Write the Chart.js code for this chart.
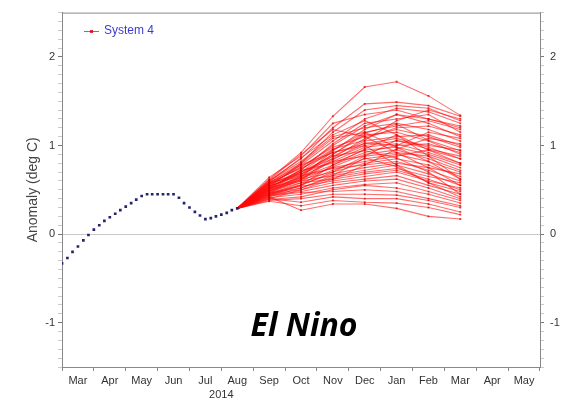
<!DOCTYPE html>
<html>
<head>
<meta charset="utf-8">
<script src="https://cdn.jsdelivr.net/npm/chart.js@4.4.1/dist/chart.umd.min.js"></script>
<style>
  html, body { margin: 0; padding: 0; background: #fff; }
  canvas { display: block; }
</style>
</head>
<body>
<canvas id="chart" width="567" height="404"></canvas>
<script>
// month axis: 0 = 1 Mar 2014, one unit per month
const monthLabels = ["Mar", "Apr", "May", "Jun", "Jul", "Aug", "Sep", "Oct", "Nov", "Dec", "Jan", "Feb", "Mar", "Apr", "May"];
const monthTicks = [0.5, 1.5, 2.5, 3.5, 4.5, 5.5, 6.5, 7.5, 8.5, 9.5, 10.5, 11.5, 12.5, 13.5, 14.5];
const yearLabel = "2014";
const yearAt = 5;

// observed anomaly (every ~5 days)
const obsX = [0, 0.17, 0.33, 0.5, 0.67, 0.83, 1, 1.17, 1.33, 1.5, 1.67, 1.83, 2, 2.17, 2.33, 2.5, 2.67,
  2.83, 3, 3.17, 3.33, 3.5, 3.67, 3.83, 4, 4.17, 4.33, 4.5, 4.67, 4.83, 5, 5.17, 5.33, 5.5];
const obsY = [-0.33, -0.27, -0.20, -0.14, -0.07, -0.01, 0.05, 0.10, 0.15, 0.19, 0.23, 0.27, 0.31, 0.35, 0.39, 0.43, 0.45,
  0.45, 0.45, 0.45, 0.45, 0.45, 0.41, 0.35, 0.30, 0.25, 0.21, 0.17, 0.18, 0.20, 0.22, 0.24, 0.27, 0.29];

// System 4 ensemble: Aug start, then Sep .. Mar monthly means
const fcX = [5.5, 6.5, 7.5, 8.5, 9.5, 10.5, 11.5, 12.5];
const fcStart = 0.29;
const members = [
  [0.62, 0.92, 1.33, 1.66, 1.72, 1.56, 1.34],
  [0.60, 0.85, 1.20, 1.47, 1.49, 1.45, 1.33],
  [0.58, 0.80, 1.15, 1.40, 1.45, 1.42, 1.28],
  [0.64, 0.88, 1.25, 1.35, 1.40, 1.30, 1.20],
  [0.55, 0.78, 1.05, 1.30, 1.42, 1.38, 1.25],
  [0.57, 0.75, 1.00, 1.22, 1.35, 1.25, 1.10],
  [0.52, 0.72, 1.02, 1.25, 1.30, 1.35, 1.15],
  [0.60, 0.82, 1.10, 1.20, 1.25, 1.18, 1.05],
  [0.50, 0.70, 0.95, 1.15, 1.22, 1.28, 1.18],
  [0.56, 0.76, 0.98, 1.10, 1.18, 1.10, 0.98],
  [0.54, 0.68, 0.90, 1.12, 1.15, 1.05, 0.90],
  [0.48, 0.66, 0.88, 1.05, 1.10, 1.12, 1.00],
  [0.58, 0.74, 0.92, 1.02, 1.08, 0.98, 0.85],
  [0.53, 0.70, 0.85, 1.00, 1.05, 1.00, 0.95],
  [0.50, 0.65, 0.82, 0.98, 1.02, 0.92, 0.80],
  [0.46, 0.62, 0.86, 1.08, 1.20, 1.22, 1.12],
  [0.55, 0.72, 0.80, 0.95, 0.98, 0.90, 0.78],
  [0.52, 0.64, 0.78, 0.92, 1.00, 1.02, 0.92],
  [0.49, 0.60, 0.76, 0.90, 0.95, 0.85, 0.72],
  [0.57, 0.68, 0.82, 0.88, 0.92, 0.88, 0.75],
  [0.45, 0.58, 0.72, 0.85, 0.90, 0.82, 0.70],
  [0.51, 0.63, 0.75, 0.82, 0.88, 0.95, 0.85],
  [0.47, 0.55, 0.70, 0.80, 0.85, 0.78, 0.65],
  [0.54, 0.66, 0.74, 0.78, 0.82, 0.72, 0.60],
  [0.44, 0.56, 0.68, 0.75, 0.80, 0.75, 0.68],
  [0.50, 0.60, 0.66, 0.72, 0.78, 0.68, 0.55],
  [0.42, 0.52, 0.64, 0.70, 0.74, 0.65, 0.58],
  [0.48, 0.58, 0.62, 0.68, 0.72, 0.62, 0.50],
  [0.46, 0.54, 0.60, 0.65, 0.70, 0.60, 0.52],
  [0.40, 0.50, 0.58, 0.62, 0.66, 0.55, 0.45],
  [0.44, 0.48, 0.55, 0.60, 0.62, 0.52, 0.40],
  [0.41, 0.45, 0.52, 0.56, 0.58, 0.48, 0.38],
  [0.39, 0.42, 0.50, 0.55, 0.52, 0.45, 0.35],
  [0.43, 0.47, 0.48, 0.50, 0.48, 0.40, 0.32],
  [0.38, 0.40, 0.45, 0.45, 0.44, 0.38, 0.30],
  [0.40, 0.36, 0.42, 0.40, 0.40, 0.34, 0.25],
  [0.37, 0.32, 0.38, 0.36, 0.35, 0.30, 0.22],
  [0.42, 0.27, 0.34, 0.34, 0.29, 0.20, 0.17],
  [0.59, 0.86, 1.12, 1.28, 1.12, 0.95, 0.80],
  [0.53, 0.80, 1.08, 1.15, 0.98, 0.82, 0.62],
  [0.61, 0.90, 1.18, 1.10, 0.92, 0.75, 0.55],
  [0.47, 0.64, 0.94, 1.18, 1.35, 1.30, 1.22],
  [0.51, 0.73, 0.96, 1.06, 1.28, 1.40, 1.30],
  [0.45, 0.50, 0.62, 0.78, 0.96, 1.08, 1.02],
  [0.56, 0.70, 0.88, 0.94, 0.86, 0.70, 0.45],
  [0.49, 0.62, 0.70, 0.88, 1.06, 0.96, 0.88],
  [0.43, 0.55, 0.78, 0.96, 1.12, 0.88, 0.62],
  [0.58, 0.78, 0.92, 1.00, 0.78, 0.58, 0.42],
  [0.52, 0.61, 0.84, 1.03, 1.00, 1.15, 1.08],
  [0.46, 0.52, 0.66, 0.86, 0.76, 0.58, 0.48],
  [0.54, 0.67, 0.90, 1.14, 1.24, 1.06, 0.94],
];

const legendText = "System 4";
const bigText = "El Nino";

// ------------------------ datasets ------------------------
const datasets = [{
  label: "obs",
  data: obsX.map((x, i) => ({ x, y: obsY[i] })),
  showLine: false,
  pointStyle: "rect",
  pointRadius: 1.9,
  pointBackgroundColor: "#24246a",
  pointBorderWidth: 0,
}];

members.forEach(m => {
  const vals = [fcStart].concat(m);
  datasets.push({
    label: legendText,
    data: fcX.map((x, i) => ({ x, y: vals[i] })),
    borderColor: "rgba(255,10,10,0.6)",
    borderWidth: 1.1,
    tension: 0,
    pointStyle: "rect",
    pointRadius: ctx => (ctx.dataIndex === 0 ? 0 : 1.3),
    pointBackgroundColor: "rgba(215,0,0,0.75)",
    pointBorderWidth: 0,
  });
});

const isInt = v => Math.abs(v - Math.round(v)) < 1e-6;
const tickFont = { family: "Liberation Sans, Arial, sans-serif", size: 11 };

// ------------------------ extra text / frame ------------------------
const decor = {
  id: "decor",
  afterDraw(chart) {
    const { ctx, chartArea: a, scales } = chart;
    ctx.save();
    // top frame line
    ctx.strokeStyle = "#888";
    ctx.lineWidth = 1;
    ctx.beginPath();
    ctx.moveTo(a.left, a.top + 0.5);
    ctx.lineTo(a.right, a.top + 0.5);
    ctx.stroke();

    // legend
    ctx.strokeStyle = "rgba(255,20,20,0.8)";
    ctx.beginPath();
    ctx.moveTo(84, 31.5);
    ctx.lineTo(99, 31.5);
    ctx.stroke();
    ctx.fillStyle = "rgba(215,0,0,0.8)";
    ctx.fillRect(90, 30, 3, 3);
    ctx.fillStyle = "#3b3bd0";
    ctx.font = "12px Liberation Sans, Arial, sans-serif";
    ctx.textBaseline = "middle";
    ctx.textAlign = "left";
    ctx.fillText(legendText, 104, 31);

    // year under the month labels
    ctx.fillStyle = "#333";
    ctx.font = "11px Liberation Sans, Arial, sans-serif";
    ctx.textAlign = "center";
    ctx.fillText(yearLabel, scales.x.getPixelForValue(yearAt), 395);

    // big label
    ctx.fillStyle = "#000";
    ctx.font = "italic bold 32px 'Open Sans', sans-serif";
    ctx.textBaseline = "alphabetic";
    ctx.fillText(bigText, 304, 336);
    ctx.restore();
  }
};

new Chart(document.getElementById("chart"), {
  type: "line",
  data: { datasets },
  options: {
    responsive: false,
    devicePixelRatio: 1,
    animation: false,
    layout: { padding: { top: 8, left: 0, right: 0, bottom: 0 } },
    plugins: { legend: { display: false }, tooltip: { enabled: false } },
    scales: {
      x: {
        type: "linear",
        min: 0,
        max: 15,
        afterBuildTicks: s => { s.ticks = monthTicks.map(v => ({ value: v })); },
        afterFit: s => { s.height = 37; },
        ticks: {
          autoSkip: false,
          maxRotation: 0,
          padding: 3,
          color: "#333",
          font: tickFont,
          callback: (v, i) => monthLabels[i],
        },
        grid: { offset: true, drawOnChartArea: false, tickLength: 4, tickColor: "#888" },
        border: { color: "#888" },
      },
      y: {
        position: "left",
        min: -1.5,
        max: 2.5,
        afterFit: s => { s.width = 62; },
        ticks: {
          stepSize: 0.1,
          autoSkip: false,
          padding: 3,
          color: "#333",
          font: tickFont,
          callback: v => (isInt(v) ? Math.round(v) : ""),
        },
        grid: {
          tickLength: 4,
          color: c => (c.tick && Math.abs(c.tick.value) < 1e-6 ? "#c8c8c8" : "rgba(0,0,0,0)"),
          tickColor: c => (c.tick && isInt(c.tick.value) ? "#777" : "#ccc"),
        },
        border: { color: "#888" },
        title: {
          display: true,
          text: "Anomaly (deg C)",
          color: "#444",
          font: { family: "Liberation Sans, Arial, sans-serif", size: 14 },
          padding: { top: 25, bottom: 0 },
        },
      },
      y2: {
        position: "right",
        min: -1.5,
        max: 2.5,
        afterFit: s => { s.width = 27; },
        ticks: {
          stepSize: 0.1,
          autoSkip: false,
          padding: 6,
          color: "#333",
          font: tickFont,
          callback: v => (isInt(v) ? Math.round(v) : ""),
        },
        grid: {
          drawOnChartArea: false,
          tickLength: 4,
          tickColor: c => (c.tick && isInt(c.tick.value) ? "#777" : "#ccc"),
        },
        border: { color: "#888" },
      },
    },
  },
  plugins: [decor],
});
</script>
</body>
</html>
